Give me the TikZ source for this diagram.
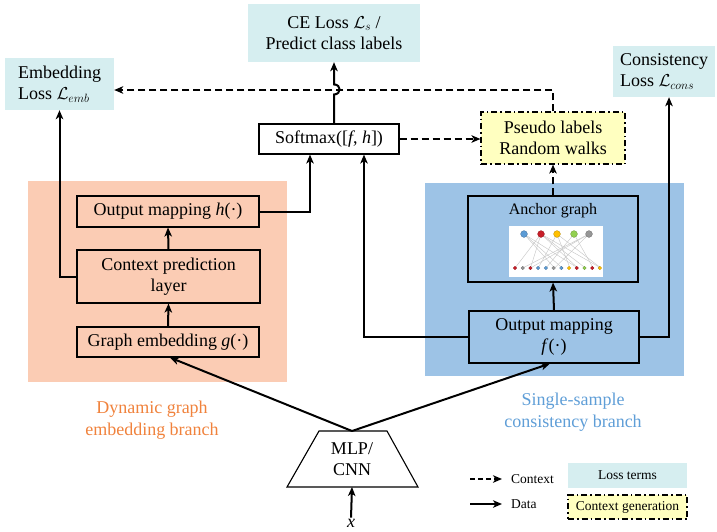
\documentclass[tikz,border=0pt]{standalone}
\usepackage{fontspec}
\setmainfont{Liberation Serif}
\usetikzlibrary{arrows.meta,calc}
\definecolor{losscol}{RGB}{214,238,240}
\definecolor{peach}{RGB}{251,204,180}
\definecolor{skyb}{RGB}{157,195,230}
\definecolor{pale}{RGB}{255,255,192}
\definecolor{orangetxt}{RGB}{240,130,60}
\definecolor{bluetxt}{RGB}{95,158,215}
\definecolor{gA}{RGB}{91,155,213}
\definecolor{gR}{RGB}{200,30,40}
\definecolor{gY}{RGB}{255,192,0}
\definecolor{gG}{RGB}{146,208,80}
\definecolor{gK}{RGB}{150,150,150}
\begin{document}
\begin{tikzpicture}[x=1pt,y=-1pt,
  big/.style={font=\fontsize{18}{21.5}\selectfont},
  small/.style={font=\fontsize{13.5}{16}\selectfont},
  box/.style={draw, line width=1.1pt, inner sep=0pt, align=center, big},
  loss/.style={fill=losscol, inner sep=0pt, big},
  dashdotline/.style={dash pattern=on 6pt off 3pt on 1.5pt off 3pt},
  gen/.style={fill=pale, draw, line width=1.1pt, dashdotline, inner sep=0pt, align=center},
  dataline/.style={line width=2pt, -{Stealth[length=9pt,width=7.5pt,inset=2.5pt]}},
  plainline/.style={line width=2pt},
  ctxline/.style={dataline, dash pattern=on 7pt off 4pt},
  edge/.style={gray!45, line width=0.4pt}]
\useasboundingbox (0,0) rectangle (717,531);

% branch backgrounds
\fill[peach] (28,181) rectangle (287,382);
\fill[skyb] (425,183) rectangle (684,376);

% loss terms
\node[loss, minimum width=172pt, minimum height=58pt, align=center] (ce) at (334,33)
  {CE Loss $\mathcal{L}_s$ /\\Predict class labels};
\node[loss, minimum width=109pt, minimum height=52pt, align=left] (emb) at (59.5,84)
  {Embedding\\Loss $\mathcal{L}_{emb}$};
\node[loss, minimum width=102pt, minimum height=51pt, align=left] (cons) at (664,71.5)
  {Consistency\\Loss $\mathcal{L}_{cons}$};

% middle boxes
\node[box, fill=white, minimum width=140pt, minimum height=30pt] (sm) at (329,139)
  {Softmax([\textit{f}, \textit{h}])};
\node[gen, big, minimum width=144pt, minimum height=52pt] (pu) at (553,138)
  {Pseudo labels\\Random walks};

% dynamic graph embedding branch
\node[box, minimum width=182pt, minimum height=31pt] (hmap) at (168,211.5)
  {Output mapping \textit{h}(·)};
\node[box, minimum width=183pt, minimum height=53pt] (ctx) at (168.5,276.5)
  {Context prediction\\layer};
\node[box, minimum width=182pt, minimum height=30pt] (gemb) at (168,342)
  {Graph embedding \textit{g}(·)};
\node[big, text=orangetxt, align=center] (dlab) at (152,420)
  {Dynamic graph\\embedding branch};

% single-sample consistency branch
\node[box, minimum width=170pt, minimum height=86pt] (anc) at (553,239) {};
\node[font=\fontsize{16}{19}\selectfont, anchor=north] (anct) at (553,200) {Anchor graph};
\node[box, minimum width=170pt, minimum height=52pt] (fmap) at (554,337)
  {Output mapping\\\textit{f}(·)};
\node[big, text=bluetxt, align=center] (slab) at (573,412)
  {Single-sample\\consistency branch};

% anchor graph sketch
\fill[white] (509,226) rectangle (603,277);
\foreach \a/\b in {524/554.6,524/562.3,524/577.8,
                   541/515,541/530.5,541/585.5,541/600.9,541/577.8,
                   557/569.9,557/600.9,557/538.2,
                   574/593.2,574/546.0,
                   589/522.7,589/554.6,589/530.5}
  \draw[edge] (\a,234) -- (\b,268);
\foreach \x/\c in {524/gA,541/gR,557/gY,574/gG,589/gK}
  \filldraw[fill=\c, draw=\c!70!black, line width=0.3pt] (\x,234) circle (3.4);
\foreach \i/\c in {0/gR,1/gK,2/gR,3/gA,4/gA,5/gK,6/gA,7/gY,8/gR,9/gG,10/gR,11/gY}
  \filldraw[fill=\c, draw=\c!70!black, line width=0.2pt] (515+\i*7.72,268) circle (1.8);

% MLP/CNN encoder
\draw[line width=1.1pt] (319,431) -- (387,431) -- (418,487) -- (287,487) -- cycle;
\node[big, align=center] (mlp) at (352,459) {MLP/\\CNN};
\coordinate (mlptop) at (352,431);
\coordinate (mlpbot) at (352,487);
\node[big, inner sep=1pt] (xin) at (351,523) {\textit{x}};

% data flow
\draw[dataline] (xin.north) -- (mlpbot);
\draw[dataline] (mlptop) -- ($(gemb.south)+(2,0)$);
\draw[dataline] (mlptop) -- ($(fmap.south)+(-4,0)$);
\draw[dataline] (gemb.north) -- (ctx.south);
\draw[dataline] (ctx.north) -- (hmap.south);
\draw[dataline] (ctx.west) -| (emb.south);
\draw[dataline] (hmap.east) -| ($(sm.south)+(-19,0)$);
\draw[dataline] (fmap.west) -| ($(sm.south)+(35,0)$);
\draw[dataline] (fmap.north) -- (anc.south);
\draw[dataline] (fmap.east) -| ($(cons.south)+(5,0)$);

% context flow
\draw[ctxline] (pu.north) |- ($(emb.east)+(0,6)$);
\draw[ctxline] (sm.east) -- (sm.east -| pu.west);
\draw[ctxline] (anc.north) -- (pu.south);

% softmax output, hopping over the context line
\draw[dataline] (sm.north -| ce.south) -- ++(0,-29)
  .. controls +(7.5,0) and +(7.5,0) .. ++(0,-10) -- (ce.south);

% legend
\coordinate (lc) at (470,479);
\coordinate (ld) at (470,504);
\node[small, anchor=west, inner xsep=9pt] (lctx) at (502,479) {Context};
\node[small, anchor=west, inner xsep=9pt] (ldat) at (502,504) {Data};
\draw[ctxline, dash pattern=on 5pt off 3pt] (lc) -- (lctx.west);
\draw[dataline] (ld) -- (ldat.west);
\node[loss, small, minimum width=119pt, minimum height=25pt] (lloss) at (627.5,475.5) {Loss terms};
\node[gen, small, minimum width=119pt, minimum height=24pt] (lgen) at (627.5,507) {Context generation};
\end{tikzpicture}
\end{document}
